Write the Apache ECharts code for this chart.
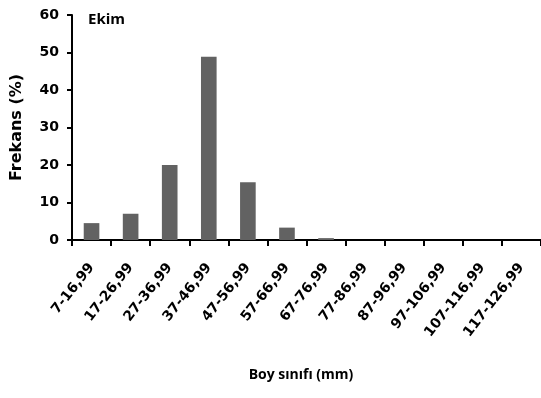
<!DOCTYPE html>
<html>
<head>
<meta charset="utf-8">
<script src="https://cdn.jsdelivr.net/npm/echarts@6/dist/echarts.min.js"></script>
<style>
  html, body { margin: 0; padding: 0; background: #fff; }
  #chart { width: 541px; height: 398px; }
</style>
</head>
<body>
<div id="chart"></div>
<script>
// Ekim ayı boy sınıfı frekans dağılımı
const boySiniflari = [
  '7-16,99', '17-26,99', '27-36,99', '37-46,99', '47-56,99', '57-66,99',
  '67-76,99', '77-86,99', '87-96,99', '97-106,99', '107-116,99', '117-126,99',
]
const frekanslar = [4.5, 7, 20, 48.9, 15.4, 3.3, 0.5, 0, 0, 0, 0, 0]
const yEksenDegerleri = [0, 10, 20, 30, 40, 50, 60]

const etiketFontu = 'DejaVu Sans'
const baslikFontu = 'Open Sans'
const cubukRengi = '#626262'

const grafik = echarts.init(document.getElementById('chart'))
grafik.setOption({
  animation: false,
  title: [
    {
      text: 'Ekim',
      left: 88,
      top: 12,
      padding: 0,
      textStyle: { fontFamily: baslikFontu, fontWeight: 'bold', fontSize: 15, color: '#000' },
    },
    {
      text: 'Boy sınıfı (mm)',
      left: 301,
      top: 368,
      padding: 0,
      textAlign: 'center',
      textStyle: { fontFamily: baslikFontu, fontWeight: 'bold', fontSize: 14, color: '#000' },
    },
  ],
  grid: { left: 72, right: -4, top: 15, bottom: 158 },
  xAxis: {
    type: 'category',
    data: boySiniflari,
    axisLine: { lineStyle: { color: '#000', width: 2 } },
    axisTick: { show: true, length: 6, lineStyle: { color: '#000', width: 2 } },
    axisLabel: {
      rotate: 52,
      margin: 25,
      interval: 0,
      fontFamily: etiketFontu,
      fontWeight: 'bold',
      fontSize: 14,
      color: '#000',
    },
  },
  yAxis: {
    type: 'value',
    min: yEksenDegerleri[0],
    max: yEksenDegerleri[yEksenDegerleri.length - 1],
    interval: 10,
    name: 'Frekans (%)',
    nameLocation: 'middle',
    nameGap: 47,
    nameTextStyle: { fontFamily: etiketFontu, fontWeight: 'bold', fontSize: 16, color: '#000' },
    axisLine: { show: true, lineStyle: { color: '#000', width: 2 } },
    axisTick: { show: true, length: 5, lineStyle: { color: '#000', width: 2 } },
    axisLabel: {
      margin: 13,
      fontFamily: etiketFontu,
      fontWeight: 'bold',
      fontSize: 14,
      color: '#000',
    },
    splitLine: { show: false },
  },
  series: [
    {
      type: 'bar',
      data: frekanslar,
      barCategoryGap: '60%',
      itemStyle: { color: cubukRengi },
    },
  ],
})
</script>
</body>
</html>
